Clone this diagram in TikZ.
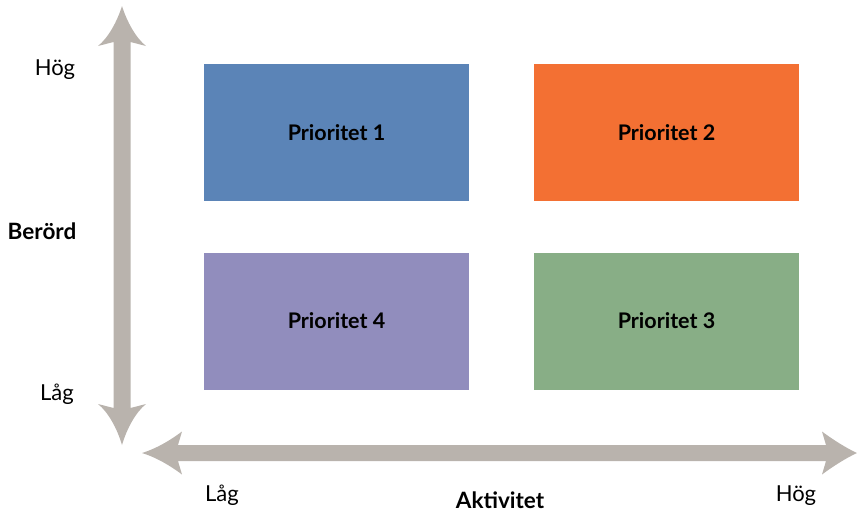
\documentclass[tikz,border=0pt]{standalone}
\usepackage{fontspec}
\setmainfont{Lato}
\definecolor{axis}{HTML}{B9B3AD}
\definecolor{pblue}{HTML}{5B84B7}
\definecolor{porange}{HTML}{F37033}
\definecolor{ppurple}{HTML}{918DBD}
\definecolor{pgreen}{HTML}{88AE86}
\begin{document}
\begin{tikzpicture}[x=1pt,y=-1pt,
  prio/.style={minimum width=265pt,minimum height=137pt,inner sep=0pt,
    font=\fontsize{21.5}{24}\selectfont\bfseries},
  lbl/.style={font=\fontsize{22}{25}\selectfont,inner sep=0pt},
  blbl/.style={font=\fontsize{22.5}{25}\selectfont\bfseries,inner sep=0pt}]
\useasboundingbox (0,0) rectangle (857,512);
% vertical axis
\fill[axis] (122,6) .. controls (117,22) and (108,38) .. (98,46)
  -- (113.5,42) -- (113.5,408) -- (98,404)
  .. controls (108,412) and (117,428) .. (122,445)
  .. controls (127,428) and (136,412) .. (146,404)
  -- (130.5,408) -- (130.5,42) -- (146,46)
  .. controls (136,38) and (127,22) .. (122,6) -- cycle;
% horizontal axis
\fill[axis] (142,453) .. controls (158,448) and (172,439) .. (182,431.5)
  -- (178,445) -- (826,445) -- (822,431.5)
  .. controls (832,439) and (846,448) .. (857,453)
  .. controls (846,458) and (832,467) .. (822,474.5)
  -- (826,461) -- (178,461) -- (182,474.5)
  .. controls (172,467) and (158,458) .. (142,453) -- cycle;
% boxes
\node[prio,fill=pblue] (p1) at (336.5,132.5) {Prioritet 1};
\node[prio,fill=porange] (p2) at (666.5,132.5) {Prioritet 2};
\node[prio,fill=ppurple] (p4) at (336.5,321) {Prioritet 4};
\node[prio,fill=pgreen] (p3) at (666.5,321) {Prioritet 3};
% labels
\node[lbl] (yhi) at (55,70) {Hög};
\node[blbl] (ylab) at (42,231) {Berörd};
\node[lbl] (ylo) at (57,394) {Låg};
\node[lbl] (xlo) at (222,495) {Låg};
\node[blbl] (xlab) at (500,500) {Aktivitet};
\node[lbl] (xhi) at (796,496) {Hög};
\end{tikzpicture}
\end{document}
